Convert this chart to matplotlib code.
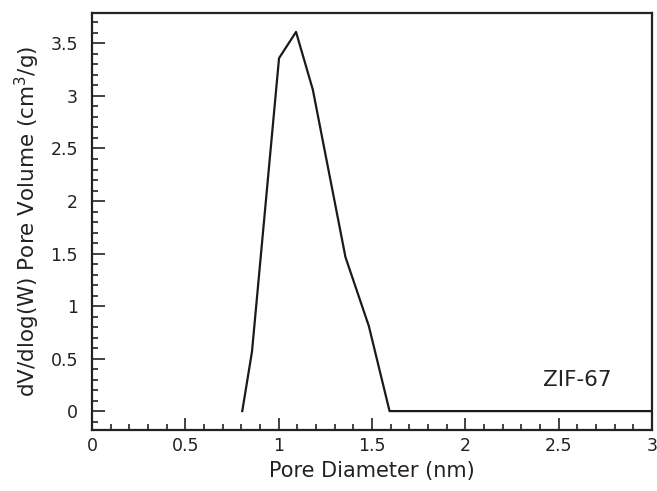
import matplotlib
matplotlib.use("Agg")
import matplotlib.pyplot as plt
from matplotlib.ticker import MultipleLocator

pore_diameter = [0.805, 0.857, 1.002, 1.093, 1.183, 1.358, 1.483, 1.594, 3.0]
pore_volume = [0.0, 0.565, 3.36, 3.61, 3.06, 1.465, 0.81, 0.0, 0.0]
x_ticks = [0, 0.5, 1, 1.5, 2, 2.5, 3]
y_ticks = [0, 0.5, 1, 1.5, 2, 2.5, 3, 3.5]

plt.rcParams['font.family'] = ['DejaVu Sans']
fig = plt.figure(figsize=(6.57, 4.91), dpi=100)
ax = fig.add_axes([92/657, 1-430/491, (652-92)/657, (430-13)/491])
ax.plot(pore_diameter, pore_volume, color='#1a1a1a', lw=1.6)
ax.set_xlim(0, 3)
ax.set_ylim(-0.18, 3.79)
ax.set_xticks(x_ticks)
ax.set_xticklabels(['0', '0.5', '1', '1.5', '2', '2.5', '3'])
ax.set_yticks(y_ticks)
ax.set_yticklabels(['0', '0.5', '1', '1.5', '2', '2.5', '3', '3.5'])
ax.xaxis.set_minor_locator(MultipleLocator(0.1))
ax.yaxis.set_minor_locator(MultipleLocator(0.1))
ax.tick_params(which='both', direction='in', top=False, right=False, width=1.2, color='#222222', labelsize=12.5, labelcolor='#222222')
ax.tick_params(which='major', length=9)
ax.tick_params(axis='x', which='major', pad=5)
ax.tick_params(axis='y', which='major', pad=10)
ax.tick_params(which='minor', length=4)
for s in ax.spines.values():
    s.set_linewidth(1.6)
    s.set_color('#222222')
ax.set_xlabel('Pore Diameter (nm)', fontsize=15, color='#222222', labelpad=4)
ax.set_ylabel('dV/dlog(W) Pore Volume (cm$^3$/g)', fontsize=15.5, color='#222222', labelpad=6)
ax.text(0.866, 0.12, 'ZIF-67', transform=ax.transAxes, ha='center', va='center', fontsize=15.5, color='#222222')
fig.savefig('out.png', dpi=100)
